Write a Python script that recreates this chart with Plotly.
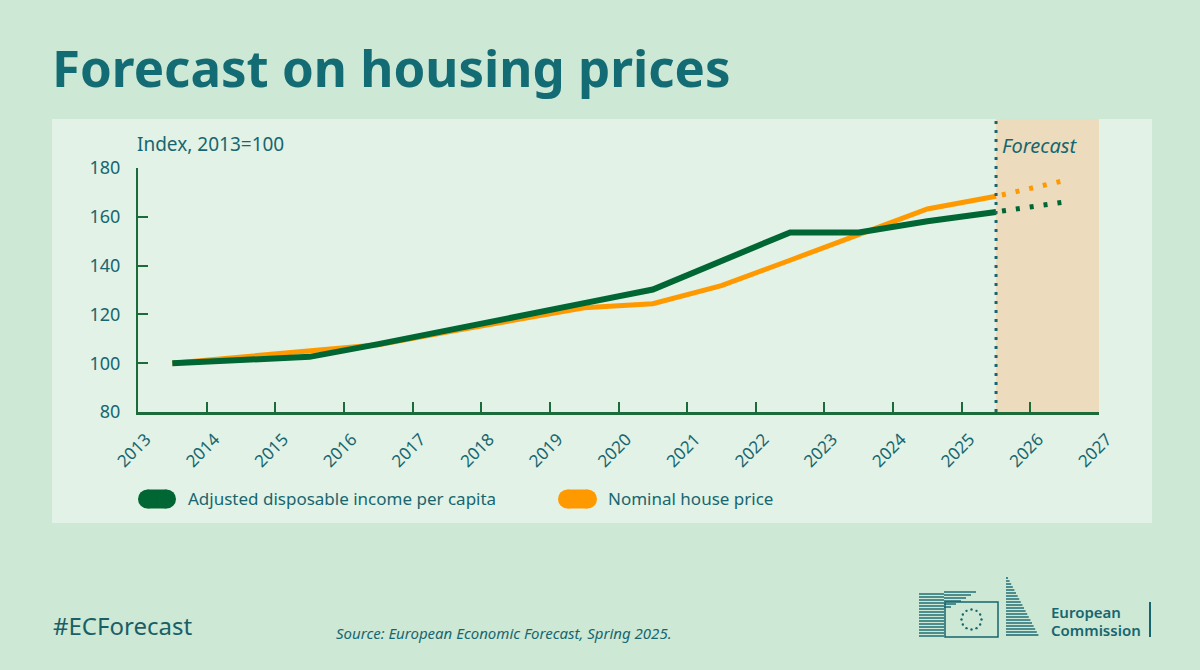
import math
import plotly.graph_objects as go

# --- data (index, 2013=100), plotted at mid-year ---
years = [2013, 2014, 2015, 2016, 2017, 2018, 2019, 2020, 2021, 2022, 2023, 2024, 2025]
income = [100, 101.2, 102.6, 107.8, 113.2, 118.8, 124.6, 130.2, 142.0, 153.6, 153.6, 158.2, 162.0]
house_price = [100, 102.6, 104.9, 107.6, 112.8, 117.8, 122.7, 124.4, 131.8, 142.2, 152.6, 163.2, 168.4]

fc_years = [2025, 2026]
income_fc = [162.0, 166.1]
house_price_fc = [168.4, 174.9]

tick_years = list(range(2013, 2028))
forecast_start = 2025.5

GREEN = "#006633"
ORANGE = "#ff9900"
TEAL = "#17666f"
AXIS = "#1b6b3b"
BG = "#cde8d4"
PANEL = "#e2f2e6"
SHADE = "#ecdcbd"
FONT = "Noto Sans"

# plot area in pixels (1200x670 canvas)
L, R, T, B = 138, 1099, 168, 412


def px(x):
    return (x - L) / (R - L)


def py(y):
    return (B - y) / (B - T)


mid = lambda ys: [y + 0.5 for y in ys]

fig = go.Figure()

fig.add_trace(go.Scatter(x=mid(years), y=house_price, mode="lines",
                         line=dict(color=ORANGE, width=5), hoverinfo="skip"))
fig.add_trace(go.Scatter(x=mid(years), y=income, mode="lines",
                         line=dict(color=GREEN, width=6), hoverinfo="skip"))

dots = "0px,6px,4px,10px,4px,10px,4px,10px,4px,10px,4px,200px"
fig.add_trace(go.Scatter(x=mid(fc_years), y=house_price_fc, mode="lines",
                         line=dict(color=ORANGE, width=5, dash=dots), hoverinfo="skip"))
fig.add_trace(go.Scatter(x=mid(fc_years), y=income_fc, mode="lines",
                         line=dict(color=GREEN, width=5, dash=dots), hoverinfo="skip"))

shapes = []
# inner panel
shapes.append(dict(type="rect", xref="paper", yref="paper", x0=px(52), x1=px(1152),
                   y0=py(523), y1=py(119), fillcolor=PANEL, line_width=0, layer="below"))
# forecast shading + divider
shapes.append(dict(type="rect", xref="x", yref="paper", x0=forecast_start, x1=2027,
                   y0=0, y1=py(119), fillcolor=SHADE, line_width=0, layer="below"))
shapes.append(dict(type="line", xref="x", yref="paper", x0=forecast_start, x1=forecast_start,
                   y0=0, y1=py(119), line=dict(color=TEAL, width=3, dash="3px,6px")))


def pill(x0, x1, yc, color):
    r = 9.5
    out = [dict(type="rect", xref="paper", yref="paper", x0=px(x0 + r), x1=px(x1 - r),
                y0=py(yc + r), y1=py(yc - r), fillcolor=color, line_width=0)]
    for cx in (x0 + r, x1 - r):
        out.append(dict(type="circle", xref="paper", yref="paper", x0=px(cx - r), x1=px(cx + r),
                        y0=py(yc + r), y1=py(yc - r), fillcolor=color, line_width=0))
    return out


shapes += pill(138, 176, 499, GREEN)
shapes += pill(558, 597, 499, ORANGE)

# simplified EC logo
for y in range(594, 638, 3):
    shapes.append(dict(type="line", xref="paper", yref="paper", x0=px(919), x1=px(944),
                       y0=py(y), y1=py(y), line=dict(color=TEAL, width=1.4)))
for i, y in enumerate(range(582, 600, 3)):
    shapes.append(dict(type="line", xref="paper", yref="paper", x0=px(944), x1=px(976 - i * 5),
                       y0=py(y + 10), y1=py(y + 10), line=dict(color=TEAL, width=1.4)))
shapes.append(dict(type="rect", xref="paper", yref="paper", x0=px(945), x1=px(998),
                   y0=py(637), y1=py(602), line=dict(color=TEAL, width=1.5)))
for k in range(12):
    a = 2 * math.pi * k / 12
    cx, cy = 971.5 + 10 * math.cos(a), 619.5 + 10 * math.sin(a)
    shapes.append(dict(type="circle", xref="paper", yref="paper", x0=px(cx - 1.2), x1=px(cx + 1.2),
                       y0=py(cy + 1.2), y1=py(cy - 1.2), fillcolor=TEAL, line_width=0))
for i, y in enumerate(range(578, 638, 3)):
    shapes.append(dict(type="line", xref="paper", yref="paper", x0=px(1006), x1=px(1008 + i * 1.6),
                       y0=py(y), y1=py(y), line=dict(color=TEAL, width=1.4)))
shapes.append(dict(type="line", xref="paper", yref="paper", x0=px(1150), x1=px(1150),
                   y0=py(602), y1=py(637), line=dict(color=TEAL, width=2)))

annotations = [
    dict(text="Forecast on housing prices", x=px(50), y=py(67), xanchor="left", yanchor="middle",
         font=dict(family=FONT, size=51, color="#136b74", weight="bold")),
    dict(text="Index, 2013=100", x=px(135), y=py(144), xanchor="left", yanchor="middle",
         font=dict(family=FONT, size=19, color=TEAL)),
    dict(text="<i>Forecast</i>", x=px(1000), y=py(145), xanchor="left", yanchor="middle",
         font=dict(family=FONT, size=20, color=TEAL)),
    dict(text="Adjusted disposable income per capita", x=px(186), y=py(498), xanchor="left",
         yanchor="middle", font=dict(family=FONT, size=17, color=TEAL)),
    dict(text="Nominal house price", x=px(606), y=py(498), xanchor="left", yanchor="middle",
         font=dict(family=FONT, size=17, color=TEAL)),
    dict(text="#ECForecast", x=px(51), y=py(625), xanchor="left", yanchor="middle",
         font=dict(family=FONT, size=24, color="#1a5f66")),
    dict(text="<i>Source: European Economic Forecast, Spring 2025.</i>", x=px(334), y=py(633),
         xanchor="left", yanchor="middle", font=dict(family=FONT, size=15, color=TEAL)),
    dict(text="European", x=px(1049), y=py(612), xanchor="left", yanchor="middle",
         font=dict(family=FONT, size=15, color=TEAL, weight=600)),
    dict(text="Commission", x=px(1049), y=py(630), xanchor="left", yanchor="middle",
         font=dict(family=FONT, size=15, color=TEAL, weight=600)),
]
for a in annotations:
    a.update(xref="paper", yref="paper", showarrow=False)

fig.update_layout(
    width=1200, height=670,
    margin=dict(l=L, r=1200 - R, t=T, b=670 - B),
    paper_bgcolor=BG, plot_bgcolor="rgba(0,0,0,0)",
    showlegend=False,
    shapes=shapes, annotations=annotations,
    font=dict(family=FONT, color=TEAL),
)
fig.update_xaxes(range=[2013, 2027], tickvals=tick_years, ticktext=[str(y) for y in tick_years],
                 tickangle=-45, ticks="inside", ticklen=10, tickwidth=2, tickcolor=AXIS,
                 showline=True, linecolor=AXIS, linewidth=2.5, showgrid=False, zeroline=False,
                 ticklabelstandoff=8, ticklabelshift=8,
                 tickfont=dict(family=FONT, size=17, color=TEAL))
fig.update_yaxes(range=[80, 180], dtick=20, ticks="inside", ticklen=10, tickwidth=2, tickcolor=AXIS,
                 showline=True, linecolor=AXIS, linewidth=2, showgrid=False, zeroline=False,
                 ticklabelstandoff=12, tickfont=dict(family=FONT, size=18, color=TEAL))

fig.write_html("out.html", config={"displayModeBar": False},
               post_script="document.body.style.margin='0';")
